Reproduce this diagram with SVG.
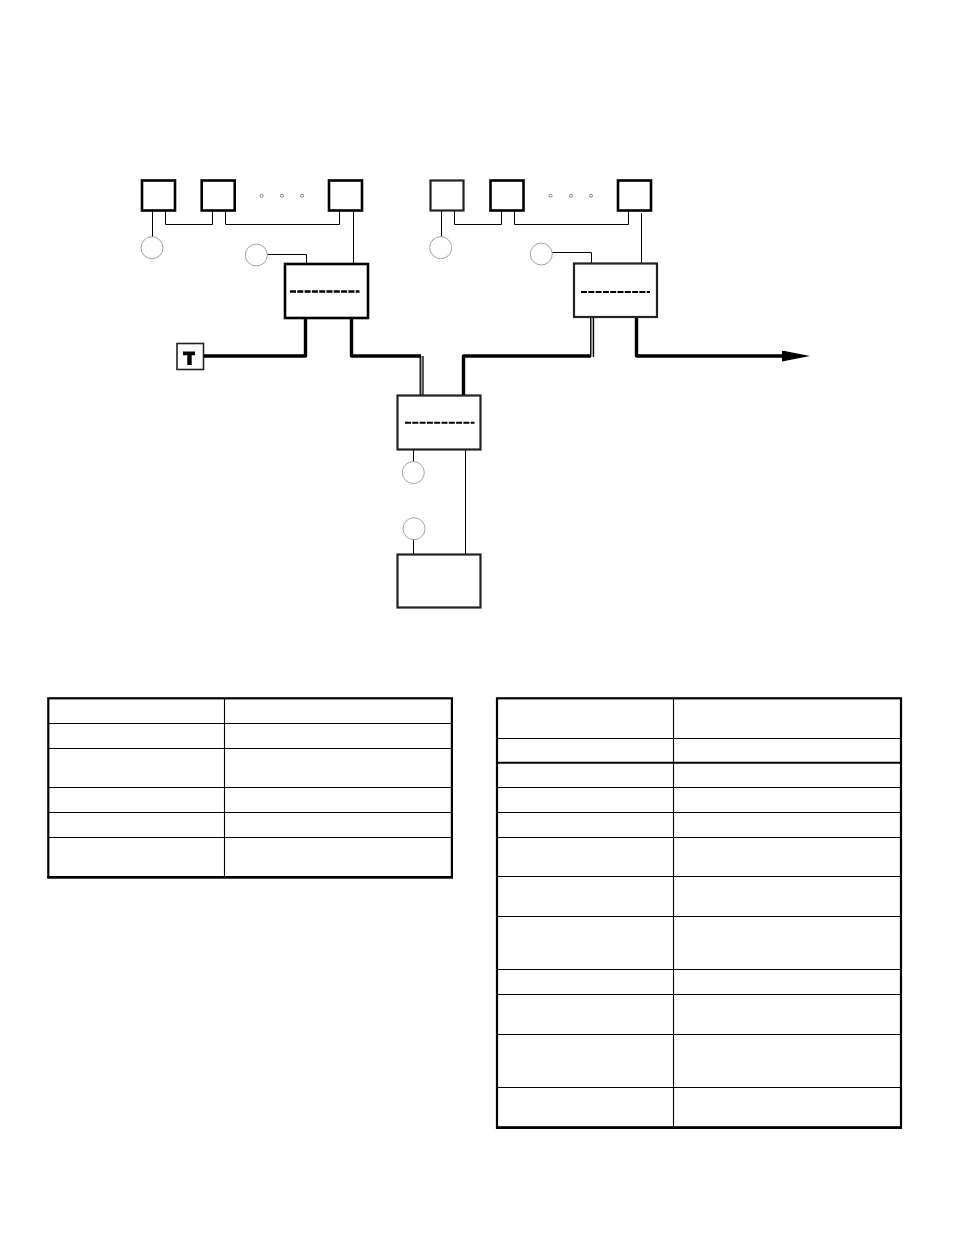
<svg xmlns="http://www.w3.org/2000/svg" width="954" height="1235" viewBox="0 0 954 1235">
<style>
.box{fill:#fff;stroke:#000;stroke-width:2.6}
.lite{fill:#fff;stroke:#222;stroke-width:2.2}
.thin{fill:none;stroke:#000;stroke-width:1}
.thick{fill:none;stroke:#000;stroke-width:3.4;stroke-linejoin:round}
.dbl{fill:none;stroke:#000;stroke-width:1.3}
.mid{fill:none;stroke:#999;stroke-width:1}
.circ{fill:#fff;stroke:#999;stroke-width:.9}
.dot{fill:#fff;stroke:#777;stroke-width:.9}
.dash{fill:none;stroke:#000;stroke-width:2.5;stroke-dasharray:6 1.3}
.tb{fill:none;stroke:#000;stroke-width:2.2}
.tl{fill:none;stroke:#000;stroke-width:1.1}
.tm{fill:none;stroke:#000;stroke-width:2}
.te{fill:none;stroke:#000;stroke-width:2.6}
</style>
<defs>
<marker id="arrow" markerUnits="userSpaceOnUse" markerWidth="28" markerHeight="11" refX="0" refY="5.5" orient="auto"><path d="M0 0L28 5.5L0 11Z" fill="#000"/></marker>
</defs>
<rect width="954" height="1235" fill="#fff"/>
<g id="connectors">
<path class="thin" d="M152.5 211V237M165.5 211V224.5H212.5V211M225.5 211V224.5H339.5V211M353.5 211V263M267 254.5H306.5V263"/>
<path class="thin" d="M441.5 211V237M454.5 211V224.5H501.5V211M514.5 211V224.5H628.5V211M641.5 213V263M552 252.5H591.5V263"/>
<path class="thin" d="M413.5 450V462M413.5 539V554M465.5 450V554"/>
<path class="thick" d="M204 356H305.5V318"/>
<path class="thick" d="M351.5 318V356H421"/>
<path class="mid" d="M421.5 356V395"/>
<path class="dbl" d="M420.2 356V395M423 356V395"/>
<path class="thick" d="M463.5 395V356H591"/>
<path class="mid" d="M592 356V318"/>
<path class="dbl" d="M590.7 357V318M593.5 357V318"/>
<path class="thick" d="M636.5 318V356H782" marker-end="url(#arrow)"/>
</g>
<g id="node-a1"><rect class="box" x="142" y="180.5" width="33" height="30"/></g>
<g id="node-a2"><rect class="box" x="201.7" y="180.5" width="33" height="30"/></g>
<g id="node-a3"><rect class="box" x="329" y="180.5" width="33" height="30"/></g>
<g id="dots-a"><circle class="dot" cx="261.7" cy="195.7" r="1.5"/><circle class="dot" cx="282" cy="195.7" r="1.5"/><circle class="dot" cx="302" cy="195.7" r="1.5"/></g>
<g id="node-b1"><rect class="lite" x="430.5" y="180.5" width="33" height="30"/></g>
<g id="node-b2"><rect class="box" x="490.5" y="180.5" width="33" height="30"/></g>
<g id="node-b3"><rect class="box" x="618" y="180.5" width="33" height="30"/></g>
<g id="dots-b"><circle class="dot" cx="550.5" cy="195.7" r="1.5"/><circle class="dot" cx="571" cy="195.7" r="1.5"/><circle class="dot" cx="591" cy="195.7" r="1.5"/></g>
<g id="circle-a1"><circle class="circ" cx="152" cy="247.7" r="11"/></g>
<g id="circle-a2"><circle class="circ" cx="256.3" cy="255" r="11"/></g>
<g id="circle-b1"><circle class="circ" cx="440.7" cy="247.7" r="11"/></g>
<g id="circle-b2"><circle class="circ" cx="541.3" cy="254" r="11"/></g>
<g id="circle-c1"><circle class="circ" cx="413.3" cy="472.5" r="11"/></g>
<g id="circle-c2"><circle class="circ" cx="414" cy="528.7" r="11"/></g>
<g id="switch-a"><rect class="box" x="285" y="264" width="83" height="54"/><path class="dash" d="M290 291.5H359.5"/></g>
<g id="switch-b"><rect class="lite" x="574" y="263.5" width="83" height="53.5"/><path class="dash" style="stroke-width:2" d="M581 292H650"/></g>
<g id="switch-c"><rect class="lite" x="397.5" y="395.5" width="83" height="54"/><path class="dash" style="stroke-width:2" d="M405 422.7H474.5"/></g>
<g id="node-bottom"><rect class="lite" x="397.5" y="554.5" width="83" height="53"/></g>
<g id="terminator"><rect x="177" y="343.5" width="26.5" height="26" fill="#fff" stroke="#222" stroke-width="1.6"/><path d="M183 351.5V355.3H187.3V365H191.7V355.3H195V351.5Z" fill="#000"/></g>
<g id="table-left">
<rect class="tb" x="48.3" y="698.3" width="403.6" height="179"/>
<path class="te" d="M47.3 877.3H453"/>
<path class="tl" d="M224.5 698V877M48 723.5H452M48 748.5H452M48 787.5H452M48 812.5H452M48 837.5H452"/>
</g>
<g id="table-right">
<rect class="tb" x="497" y="698.3" width="404" height="429.5"/>
<path class="te" d="M496 1127.5H902"/>
<path class="tl" d="M673.5 698V1127M497 738.5H901M497 787.5H901M497 812.5H901M497 837.5H901M497 876.5H901M497 916.5H901M497 969.5H901M497 994.5H901M497 1034.5H901M497 1087.5H901"/>
<path class="tm" d="M497 762.7H901"/>
</g>
</svg>
